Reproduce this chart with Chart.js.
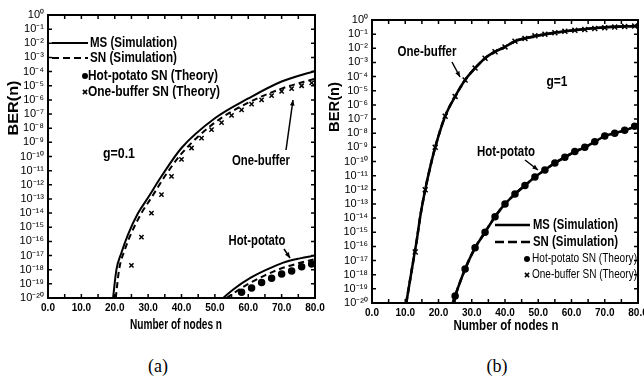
<!DOCTYPE html>
<html>
<head>
<meta charset="utf-8">
<script src="https://cdn.jsdelivr.net/npm/chart.js@4/dist/chart.umd.min.js"></script>
<style>
  html, body { margin: 0; padding: 0; background: #fff; }
  #wrap { position: relative; width: 644px; height: 378px; overflow: hidden; background: #fff; }
  canvas { position: absolute; top: 0; }
  #cA { left: 0; }
  #cB { left: 322px; }
  .cap { position: absolute; top: 355px; font: 18px "Liberation Serif", serif; color: #000; transform: translateX(-50%); line-height: 22px; }
</style>
</head>
<body>
<div id="wrap">
  <canvas id="cA" width="340" height="340"></canvas>
  <canvas id="cB" width="322" height="340"></canvas>
  <div class="cap" style="left:158px">(a)</div>
  <div class="cap" style="left:497px">(b)</div>
</div>
<script>
// ---- axis ticks ----
const xTickVals = [0, 10, 20, 30, 40, 50, 60, 70, 80];
const xMinorVals = [5, 15, 25, 35, 45, 55, 65, 75];
const yTickExps = [0, -1, -2, -3, -4, -5, -6, -7, -8, -9, -10, -11, -12, -13, -14, -15, -16, -17, -18, -19, -20];

// ---- panel (a), g = 0.1  (y values are log10 of BER) ----
const aMsObN   = [19.5, 20.5, 22, 24, 27, 30, 34, 40, 50, 60, 70, 80];
const aMsObLog = [-20, -18.0, -16.8, -15.5, -14.0, -12.9, -11.4, -9.4, -7.3, -5.9, -4.7, -3.95];
const aSnObN   = [20.3, 21.3, 23, 25, 28, 31, 35, 40, 50, 60, 70, 80];
const aSnObLog = [-20, -18.0, -16.6, -15.4, -14.0, -12.9, -11.4, -9.8, -7.6, -6.2, -5.2, -4.5];
const aMsHpN   = [52.5, 55.5, 60.5, 65.5, 70.5, 75.5, 80];
const aMsHpLog = [-20, -19.4, -18.6, -18.0, -17.5, -17.2, -17.0];
const aSnHpN   = [53.5, 56, 60, 65, 70, 75, 80];
const aSnHpLog = [-20, -19.6, -19.0, -18.4, -17.9, -17.55, -17.25];
const aThHpN   = [58, 61, 64, 67, 70, 73, 76, 79];
const aThHpLog = [-19.6, -19.3, -18.9, -18.6, -18.3, -18.1, -17.8, -17.6];
const aThObN   = [25, 28, 31, 34, 37, 40, 43, 46, 49, 52, 55, 58, 61, 64, 67, 70, 73, 76, 79];
const aThObLog = [-17.7, -15.7, -14.0, -12.7, -11.4, -10.2, -9.4, -8.7, -8.1, -7.6, -7.1, -6.7, -6.3, -6.0, -5.7, -5.4, -5.2, -5.0, -4.8];

// ---- panel (b), g = 1 ----
const bMsObN   = [10.3, 11.5, 12.5, 13.5, 14.5, 16, 17.5, 19, 22, 25, 28, 31, 34, 37, 40, 43, 50, 60, 70, 80];
const bMsObLog = [-20, -18.3, -16.9, -15.5, -13.9, -12.0, -10.4, -9.0, -6.8, -5.4, -4.24, -3.4, -2.7, -2.24, -1.9, -1.5, -1.1, -0.75, -0.52, -0.42];
const bSnObN   = bMsObN;      // SN simulation lies on top of MS
const bSnObLog = bMsObLog;
const bMsHpN   = [24.3, 25, 28, 31, 34, 37, 40, 43, 46, 49, 52, 55, 58, 61, 64, 67, 70, 73, 76, 80];
const bMsHpLog = [-20, -19.5, -17.6, -16.1, -15.0, -13.9, -13.0, -12.3, -11.7, -11.1, -10.6, -10.1, -9.7, -9.3, -9.0, -8.6, -8.2, -8.0, -7.8, -7.45];
const bSnHpN   = bMsHpN;
const bSnHpLog = bMsHpLog;
const bThHpN   = [25, 28, 31, 34, 37, 40, 43, 46, 49, 52, 55, 58, 61, 64, 67, 70, 73, 76, 79];
const bThHpLog = [-19.5, -17.6, -16.1, -15.0, -13.9, -13.0, -12.3, -11.7, -11.1, -10.6, -10.1, -9.7, -9.3, -9.0, -8.6, -8.2, -8.0, -7.8, -7.5];
const bThObN   = [13, 16, 19, 22, 25, 28, 31, 34, 37, 40, 43, 46, 49, 52, 55, 58, 61, 64, 67, 70, 73, 76, 79];
const bThObLog = [-16.4, -12.0, -9.0, -6.8, -5.4, -4.24, -3.4, -2.7, -2.24, -1.9, -1.5, -1.3, -1.12, -1.0, -0.9, -0.8, -0.73, -0.67, -0.6, -0.54, -0.5, -0.46, -0.43];

const FAM = '"Liberation Sans", Arial, sans-serif';
const SUP = { '-': '\u207B', '0': '\u2070', '1': '\u00B9', '2': '\u00B2', '3': '\u00B3', '4': '\u2074',
              '5': '\u2075', '6': '\u2076', '7': '\u2077', '8': '\u2078', '9': '\u2079' };
function sup(n) { return String(n).split('').map(c => SUP[c]).join(''); }
function pts(xs, logs) { return xs.map((x, i) => ({ x: x, y: Math.pow(10, logs[i]) })); }

function lineSet(xs, logs, dashed, w) {
  return { data: pts(xs, logs), borderColor: '#000', borderWidth: w, borderDash: dashed ? [6, 4] : [],
           pointRadius: 0, fill: false, cubicInterpolationMode: 'monotone', showLine: true };
}
function markSet(xs, logs, style, r) {
  return { data: pts(xs, logs), showLine: false, pointStyle: style, pointRadius: r,
           borderColor: '#000', backgroundColor: '#000', borderWidth: 1.5 };
}

// box with inward ticks on all four sides
const framePlugin = {
  id: 'frame',
  afterDraw(chart) {
    const { ctx, chartArea: a, scales } = chart;
    ctx.save();
    ctx.strokeStyle = '#000';
    ctx.lineWidth = 2;
    ctx.strokeRect(a.left, a.top, a.right - a.left, a.bottom - a.top);
    ctx.lineWidth = 1.5;
    ctx.beginPath();
    yTickExps.forEach(e => {
      const y = scales.y.getPixelForValue(Math.pow(10, e));
      ctx.moveTo(a.left, y); ctx.lineTo(a.left + 4, y);
      ctx.moveTo(a.right, y); ctx.lineTo(a.right - 4, y);
    });
    xTickVals.concat(xMinorVals).forEach(v => {
      const x = scales.x.getPixelForValue(v);
      ctx.moveTo(x, a.bottom); ctx.lineTo(x, a.bottom - 4);
      ctx.moveTo(x, a.top); ctx.lineTo(x, a.top + 4);
    });
    ctx.stroke();
    ctx.restore();
  }
};

function mark(ctx, style, x, y, r) {
  ctx.beginPath();
  if (style === 'circle') {
    ctx.arc(x, y, r, 0, Math.PI * 2);
    ctx.fill();
  } else {
    ctx.moveTo(x - r * 0.7, y - r * 0.7); ctx.lineTo(x + r * 0.7, y + r * 0.7);
    ctx.moveTo(x + r * 0.7, y - r * 0.7); ctx.lineTo(x - r * 0.7, y + r * 0.7);
    ctx.stroke();
  }
}

// text squeezed to a given width (the original uses a narrow face)
function fitText(ctx, text, x, y, w, font, align, rot) {
  ctx.save();
  ctx.font = font;
  ctx.textAlign = align;
  ctx.textBaseline = 'middle';
  const k = w / ctx.measureText(text).width;
  ctx.translate(x, y);
  if (rot) ctx.rotate(rot);
  ctx.scale(k, 1);
  ctx.fillText(text, 0, 0);
  ctx.restore();
}

// legend, labels and arrows
const notesPlugin = {
  id: 'notes',
  afterDraw(chart, args, o) {
    const ctx = chart.ctx;
    ctx.save();
    ctx.fillStyle = '#000';
    ctx.strokeStyle = '#000';

    fitText(ctx, o.yTitle.text, o.yTitle.x, o.yTitle.y, o.yTitle.w, 'bold 14px ' + FAM, 'center', -Math.PI / 2);
    fitText(ctx, o.xTitle.text, o.xTitle.x, o.xTitle.y, o.xTitle.w, 'bold 14px ' + FAM, 'center');

    o.legend.forEach(it => {
      ctx.lineWidth = it.lw || 2;
      if (it.kind === 'line') {
        ctx.setLineDash(it.dash || []);
        ctx.beginPath(); ctx.moveTo(it.x1, it.y); ctx.lineTo(it.x2, it.y); ctx.stroke();
        ctx.setLineDash([]);
      } else {
        ctx.lineWidth = 1.5;
        mark(ctx, it.kind, it.mx, it.y, 3);
      }
      fitText(ctx, it.text, it.tx, it.y, it.w, it.font, 'left');
    });

    o.texts.forEach(t => fitText(ctx, t.text, t.x, t.y, t.w, 'bold 14px ' + FAM, 'center'));

    ctx.lineWidth = 1.5;
    o.arrows.forEach(ar => {
      ctx.beginPath(); ctx.moveTo(ar[0], ar[1]); ctx.lineTo(ar[2], ar[3]); ctx.stroke();
      const ang = Math.atan2(ar[3] - ar[1], ar[2] - ar[0]);
      ctx.beginPath();
      ctx.moveTo(ar[2], ar[3]);
      ctx.lineTo(ar[2] - 6 * Math.cos(ang - 0.4), ar[3] - 6 * Math.sin(ang - 0.4));
      ctx.lineTo(ar[2] - 6 * Math.cos(ang + 0.4), ar[3] - 6 * Math.sin(ang + 0.4));
      ctx.closePath(); ctx.fill();
    });
    ctx.restore();
  }
};

function makeChart(id, datasets, pad, notes) {
  return new Chart(document.getElementById(id), {
    type: 'line',
    data: { datasets: datasets },
    options: {
      responsive: false, animation: false, devicePixelRatio: 1,
      layout: { padding: { left: pad.left, right: pad.right, top: pad.top, bottom: 0 } },
      plugins: { legend: { display: false }, tooltip: { enabled: false }, notes: notes },
      scales: {
        x: {
          type: 'linear', min: 0, max: 80,
          afterBuildTicks: s => { s.ticks = xTickVals.map(v => ({ value: v })); },
          afterFit: s => { s.height = pad.xh; s.paddingLeft = 0; s.paddingRight = 0; },
          grid: { display: false, drawTicks: false }, border: { display: false },
          ticks: { color: '#000', font: { family: FAM, size: 10, weight: 'bold' }, padding: 4,
                   maxRotation: 0, autoSkip: false, callback: v => v.toFixed(1) }
        },
        y: {
          type: 'logarithmic', min: 1e-20, max: 1,
          afterBuildTicks: s => { s.ticks = yTickExps.map(e => ({ value: Math.pow(10, e) })); },
          afterFit: s => { s.width = pad.yw; s.paddingTop = 0; s.paddingBottom = 0; },
          grid: { display: false, drawTicks: false }, border: { display: false },
          ticks: { color: '#000', font: { family: FAM, size: 11 }, padding: 4, autoSkip: false,
                   callback: v => '10' + sup(Math.round(Math.log10(v))) }
        }
      }
    },
    plugins: [framePlugin, notesPlugin]
  });
}

const B14 = 'bold 14px ' + FAM;

// ---- (a) ----
makeChart('cA', [
  lineSet(aMsObN, aMsObLog, false, 2),
  lineSet(aSnObN, aSnObLog, true, 2),
  lineSet(aMsHpN, aMsHpLog, false, 2),
  lineSet(aSnHpN, aSnHpLog, true, 2),
  markSet(aThHpN, aThHpLog, 'circle', 3),
  markSet(aThObN, aThObLog, 'crossRot', 3)
], { left: 2, right: 25, top: 15, xh: 42, yw: 46 }, {
  yTitle: { text: 'BER(n)', x: 14, y: 108, w: 55 },
  xTitle: { text: 'Number of nodes n', x: 176, y: 325, w: 92 },
  legend: [
    { kind: 'line', x1: 52, x2: 88, y: 43, text: 'MS (Simulation)', tx: 90, w: 87, font: B14 },
    { kind: 'line', x1: 52, x2: 88, y: 58, dash: [7, 4], text: 'SN (Simulation)', tx: 90, w: 87, font: B14 },
    { kind: 'circle', mx: 85, y: 76, text: 'Hot-potato SN (Theory)', tx: 88, w: 130, font: B14 },
    { kind: 'cross', mx: 85, y: 92, text: 'One-buffer SN (Theory)', tx: 88, w: 132, font: B14 }
  ],
  texts: [
    { text: 'g=0.1', x: 119, y: 154, w: 32 },
    { text: 'One-buffer', x: 261, y: 161, w: 58 },
    { text: 'Hot-potato', x: 257, y: 241, w: 57 }
  ],
  arrows: [[286, 150, 293, 100], [284, 249, 290, 258]]
});

// ---- (b) ----
makeChart('cB', [
  lineSet(bMsObN, bMsObLog, false, 2.5),
  lineSet(bSnObN, bSnObLog, true, 2.5),
  lineSet(bMsHpN, bMsHpLog, false, 2.5),
  lineSet(bSnHpN, bSnHpLog, true, 2.5),
  markSet(bThHpN, bThHpLog, 'circle', 3),
  markSet(bThObN, bThObLog, 'crossRot', 3.5)
], { left: 4, right: 6, top: 20, xh: 37, yw: 46 }, {
  yTitle: { text: 'BER(n)', x: 13, y: 107, w: 50 },
  xTitle: { text: 'Number of nodes n', x: 184, y: 326, w: 105 },
  legend: [
    { kind: 'line', x1: 173, x2: 208, y: 225, lw: 2.5, text: 'MS (Simulation)', tx: 211, w: 85, font: B14 },
    { kind: 'line', x1: 173, x2: 208, y: 242, lw: 2.5, dash: [9, 4], text: 'SN (Simulation)', tx: 211, w: 85, font: B14 },
    { kind: 'circle', mx: 205, y: 259, text: 'Hot-potato SN (Theory)', tx: 210, w: 105, font: '12px ' + FAM },
    { kind: 'cross', mx: 205, y: 275, text: 'One-buffer SN (Theory)', tx: 210, w: 105, font: '12px ' + FAM }
  ],
  texts: [
    { text: 'g=1', x: 235, y: 82, w: 21 },
    { text: 'One-buffer', x: 105, y: 52, w: 59 },
    { text: 'Hot-potato', x: 184, y: 152, w: 58 }
  ],
  arrows: [[130, 62, 138, 77], [203, 160, 216, 170]]
});
</script>
</body>
</html>
